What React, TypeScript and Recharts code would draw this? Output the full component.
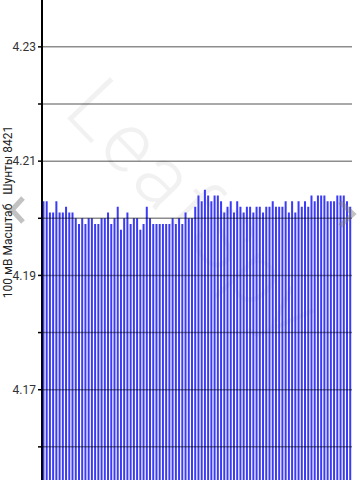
import React from 'react';
import { BarChart, Bar, XAxis, YAxis, ReferenceLine } from 'recharts';

const cells: number[] = [
  1, 2, 3, 4, 5, 6, 7, 8, 9, 10, 11, 12, 13, 14, 15, 16,
  17, 18, 19, 20, 21, 22, 23, 24, 25, 26, 27, 28, 29, 30, 31, 32,
  33, 34, 35, 36, 37, 38, 39, 40, 41, 42, 43, 44, 45, 46, 47, 48,
  49, 50, 51, 52, 53, 54, 55, 56, 57, 58, 59, 60, 61, 62, 63, 64,
  65, 66, 67, 68, 69, 70, 71, 72, 73, 74, 75, 76, 77, 78, 79, 80,
  81, 82, 83, 84, 85, 86, 87, 88, 89, 90, 91, 92, 93, 94, 95, 96,
];

const voltages: number[] = [
  4.203, 4.203, 4.201, 4.201, 4.203, 4.201, 4.201, 4.202, 4.201, 4.201, 4.200, 4.199, 4.200, 4.199, 4.200, 4.200,
  4.199, 4.199, 4.200, 4.200, 4.201, 4.199, 4.200, 4.202, 4.198, 4.200, 4.201, 4.199, 4.200, 4.200, 4.198, 4.199,
  4.202, 4.200, 4.199, 4.199, 4.199, 4.199, 4.199, 4.199, 4.200, 4.199, 4.200, 4.199, 4.201, 4.200, 4.200, 4.202,
  4.204, 4.203, 4.205, 4.204, 4.203, 4.204, 4.204, 4.203, 4.201, 4.202, 4.203, 4.201, 4.203, 4.202, 4.201, 4.202,
  4.202, 4.201, 4.202, 4.202, 4.201, 4.202, 4.202, 4.203, 4.202, 4.202, 4.202, 4.203, 4.201, 4.203, 4.201, 4.203,
  4.202, 4.203, 4.202, 4.204, 4.203, 4.204, 4.204, 4.204, 4.203, 4.203, 4.203, 4.204, 4.204, 4.204, 4.203, 4.202,
];

const yTicks: number[] = [4.16, 4.17, 4.18, 4.19, 4.2, 4.21, 4.22, 4.23];
const labeledTicks: string[] = ['4.17', '4.19', '4.21', '4.23'];
const yDomain: [number, number] = [4.1542, 4.2382];
const axisTitle = '100 мВ Масштаб\u00A0\u00A0\u00A0Шунты 8421';
const watermark = 'LeafSpy';

const data = cells.map((c, i) => ({ cell: c, v: voltages[i] }));

const FONT = 'Roboto, "Noto Sans", sans-serif';

const AxisTitle = () => (
  <text
    x={9}
    y={212}
    transform="rotate(-90 9 212)"
    textAnchor="middle"
    dominantBaseline="middle"
    fontFamily={FONT}
    fontSize={12}
    fill="#222"
  >
    {axisTitle}
  </text>
);

export default function App() {
  return (
    <div style={{ position: 'absolute', left: 0, top: 0, width: 360, height: 480, overflow: 'hidden', background: '#fff' }}>
      <div
        style={{
          position: 'absolute',
          left: 195,
          top: 210,
          transform: 'translate(-50%, -50%) rotate(46deg)',
          fontFamily: FONT,
          fontWeight: 300,
          fontSize: 84,
          letterSpacing: 4,
          color: 'rgba(0,0,0,0.055)',
          whiteSpace: 'nowrap',
        }}
      >
        {watermark}
      </div>
      <div style={{ position: 'absolute', left: 0, top: 0 }}>
        <BarChart
          width={360}
          height={480}
          data={data}
          margin={{ top: 0, right: 8, bottom: 0, left: 0 }}
          barCategoryGap="14%"
        >
          <XAxis dataKey="cell" hide />
          <YAxis
            type="number"
            domain={yDomain}
            allowDataOverflow
            ticks={yTicks}
            interval={0}
            width={42}
            tickSize={4}
            tickMargin={2}
            axisLine={{ stroke: '#000', strokeWidth: 2 }}
            tickLine={{ stroke: '#000', strokeWidth: 1.5 }}
            tick={{ fontSize: 12, fontFamily: FONT, fill: '#333' }}
            tickFormatter={(v: number) => (labeledTicks.includes(v.toFixed(2)) ? v.toFixed(2) : '')}
            label={<AxisTitle />}
          />
          <Bar dataKey="v" fill="#3b3bf4" isAnimationActive={false} />
          {yTicks.map((t) => (
            <ReferenceLine key={t} y={t} stroke="#000" strokeOpacity={0.45} strokeWidth={1.5} />
          ))}
        </BarChart>
      </div>
      <svg width={360} height={480} style={{ position: 'absolute', left: 0, top: 0, pointerEvents: 'none' }}>
        <polyline points="23,198 12,210 23,222" fill="none" stroke="rgba(120,120,120,0.45)" strokeWidth={5} />
        <polyline points="340,202 353,214 340,226" fill="none" stroke="rgba(120,120,120,0.45)" strokeWidth={5} />
      </svg>
    </div>
  );
}
